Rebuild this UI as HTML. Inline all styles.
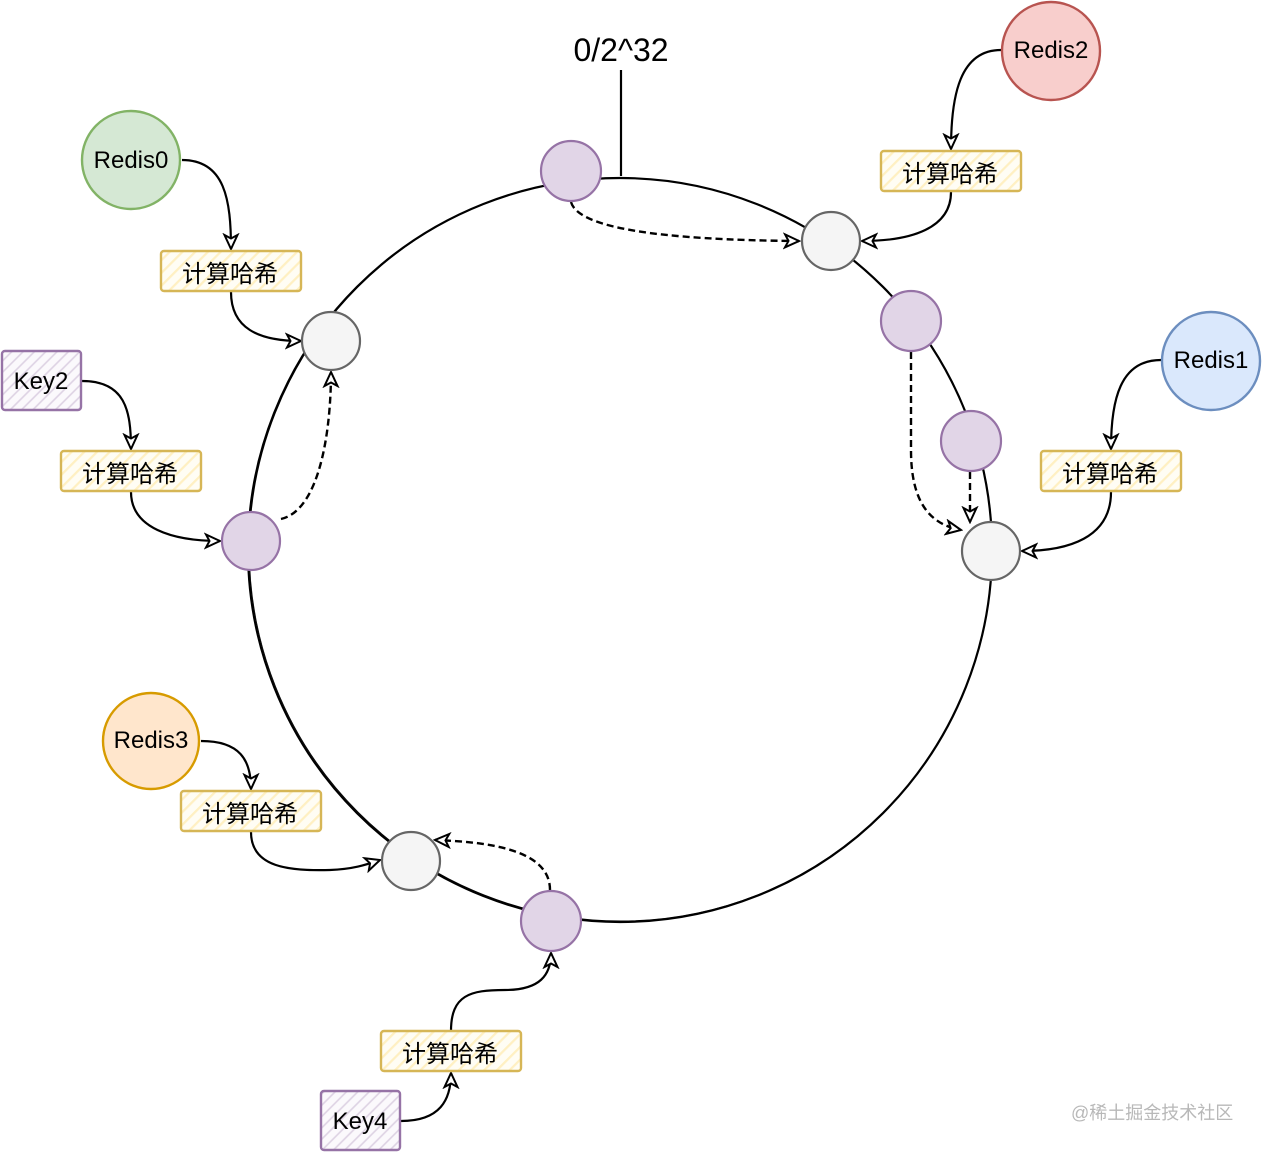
<!DOCTYPE html>
<html>
<head>
<meta charset="utf-8">
<style>
html,body{margin:0;padding:0;background:#fff;}
svg{display:block;}
text{font-family:"Liberation Sans","Noto Sans CJK SC",sans-serif;fill:#000;}
</style>
</head>
<body>
<svg width="1262" height="1152" viewBox="0 0 1262 1152" xmlns="http://www.w3.org/2000/svg">
<defs>
  <pattern id="hy" width="9" height="9" patternUnits="userSpaceOnUse" patternTransform="rotate(45)">
    <rect width="9" height="9" fill="#fffdf4"/>
    <line x1="1" y1="0" x2="1" y2="9" stroke="#fff0c2" stroke-width="2.5"/>
  </pattern>
  <pattern id="hp" width="8" height="8" patternUnits="userSpaceOnUse" patternTransform="rotate(45)">
    <rect width="8" height="8" fill="#fbf9fc"/>
    <line x1="1" y1="0" x2="1" y2="8" stroke="#ddd2e3" stroke-width="1.6"/>
  </pattern>
  <marker id="ar" viewBox="0 0 18 18" refX="16" refY="9" markerWidth="18" markerHeight="18" markerUnits="userSpaceOnUse" orient="auto">
    <path d="M2,2.5 L16,9 L2,15.5 L5.5,9 Z" fill="#fff" stroke="#000" stroke-width="2" stroke-linejoin="miter"/>
  </marker>
</defs>

<!-- ring -->
<circle cx="620" cy="550" r="372" fill="none" stroke="#000" stroke-width="2.2"/>
<circle cx="620.8" cy="549.5" r="371.5" fill="none" stroke="#000" stroke-width="0.9"/>
<!-- 0/2^32 marker -->
<line x1="621" y1="70" x2="621" y2="176" stroke="#000" stroke-width="2.2"/>
<text x="621" y="61" font-size="32" text-anchor="middle">0/2^32</text>

<!-- solid connectors -->
<g fill="none" stroke="#000" stroke-width="2.2" marker-end="url(#ar)">
  <path d="M182,160 C225,160 231,200 231,249"/>
  <path d="M231,292 C231,328 258,341 301,341"/>
  <path d="M82,381 C125,381 131,410 131,449"/>
  <path d="M131,492 C131,528 172,541 220,541"/>
  <path d="M1001,50 C960,50 951,95 951,149"/>
  <path d="M951,192 C951,228 912,241 862,241"/>
  <path d="M1161,360 C1120,360 1111,400 1111,449"/>
  <path d="M1111,492 C1111,538 1068,551 1022,551"/>
  <path d="M201,741 C240,741 251,760 251,789"/>
  <path d="M251,832 C251,868 290,871 330,870 C355,869 368,864 380,860"/>
  <path d="M401,1121 C440,1121 451,1100 451,1073"/>
  <path d="M451,1031 C451,995 470,990 505,990 C540,990 551,975 551,953"/>
</g>

<!-- dashed connectors -->
<g fill="none" stroke="#000" stroke-width="2.4" stroke-dasharray="7 4" marker-end="url(#ar)">
  <path d="M571,202 C578,228 660,240 799,241"/>
  <path d="M281,519 C320,510 331,430 331,372"/>
  <path d="M911,352 L911,450 C911,500 928,524 961,530"/>
  <path d="M970,472 L970,522"/>
  <path d="M550,890 C550,850 490,842 435,840"/>
</g>

<!-- ring nodes -->
<g stroke-width="2.2">
  <circle cx="571" cy="171" r="30" fill="#e1d5e7" stroke="#9673a6"/>
  <circle cx="831" cy="241" r="29" fill="#f5f5f5" stroke="#666"/>
  <circle cx="911" cy="321" r="30" fill="#e1d5e7" stroke="#9673a6"/>
  <circle cx="971" cy="441" r="30" fill="#e1d5e7" stroke="#9673a6"/>
  <circle cx="991" cy="551" r="29" fill="#f5f5f5" stroke="#666"/>
  <circle cx="331" cy="341" r="29" fill="#f5f5f5" stroke="#666"/>
  <circle cx="251" cy="541" r="29" fill="#e1d5e7" stroke="#9673a6"/>
  <circle cx="411" cy="861" r="29" fill="#f5f5f5" stroke="#666"/>
  <circle cx="551" cy="921" r="30" fill="#e1d5e7" stroke="#9673a6"/>
</g>

<!-- Redis servers -->
<g stroke-width="2.4">
  <circle cx="131" cy="160" r="49" fill="#d5e8d4" stroke="#82b366"/>
  <circle cx="1051" cy="51" r="49" fill="#f8cecc" stroke="#b85450"/>
  <circle cx="1211" cy="361" r="49" fill="#dae8fc" stroke="#6c8ebf"/>
  <circle cx="151" cy="741" r="48" fill="#ffe6cc" stroke="#d79b00"/>
</g>
<g font-size="24" text-anchor="middle">
  <text x="131" y="168">Redis0</text>
  <text x="1051" y="58">Redis2</text>
  <text x="1211" y="368">Redis1</text>
  <text x="151" y="748">Redis3</text>
</g>

<!-- hash boxes -->
<g fill="url(#hy)" stroke="#d6b656" stroke-width="2.4">
  <rect x="161" y="251" width="140" height="40" rx="3"/>
  <rect x="61" y="451" width="140" height="40" rx="3"/>
  <rect x="881" y="151" width="140" height="40" rx="3"/>
  <rect x="1041" y="451" width="140" height="40" rx="3"/>
  <rect x="181" y="791" width="140" height="40" rx="3"/>
  <rect x="381" y="1031" width="140" height="40" rx="3"/>
</g>
<g font-size="24" text-anchor="middle">
  <text x="230" y="282">计算哈希</text>
  <text x="130" y="482">计算哈希</text>
  <text x="950" y="182">计算哈希</text>
  <text x="1110" y="482">计算哈希</text>
  <text x="250" y="822">计算哈希</text>
  <text x="450" y="1062">计算哈希</text>
</g>

<!-- keys -->
<g fill="url(#hp)" stroke="#9673a6" stroke-width="2.4">
  <rect x="2" y="351" width="79" height="59" rx="3"/>
  <rect x="321" y="1091" width="79" height="59" rx="3"/>
</g>
<g font-size="24" text-anchor="middle">
  <text x="41" y="389">Key2</text>
  <text x="360" y="1129">Key4</text>
</g>

<!-- watermark -->
<text x="1071" y="1119" font-size="18" fill="#b8b8b8" style="fill:#b8b8b8">@稀土掘金技术社区</text>
</svg>
</body>
</html>
